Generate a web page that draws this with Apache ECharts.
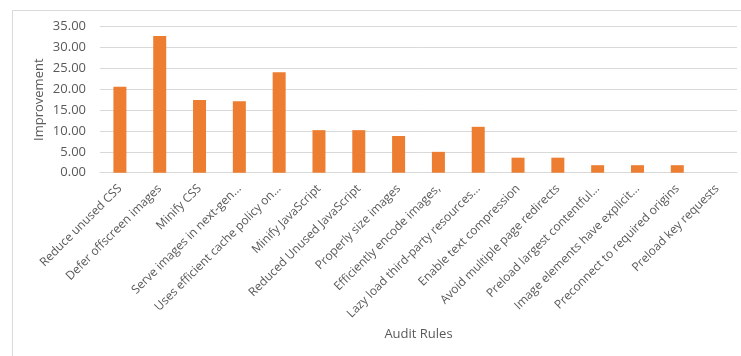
<!DOCTYPE html>
<html>
<head>
<meta charset="utf-8">
<script src="https://cdn.jsdelivr.net/npm/echarts@6/dist/echarts.min.js"></script>
<style>
  html, body { margin: 0; padding: 0; background: #fff; }
  #chart { width: 741px; height: 356px; }
</style>
</head>
<body>
<div id="chart"></div>
<script>
var rules = [
    'Reduce unused CSS',
    'Defer offscreen images',
    'Minify CSS',
    'Serve images in next-gen...',
    'Uses efficient cache policy on...',
    'Minify JavaScript',
    'Reduced Unused JavaScript',
    'Properly size images',
    'Efficiently encode images,',
    'Lazy load third-party resources...',
    'Enable text compression',
    'Avoid multiple page redirects',
    'Preload largest contentful...',
    'Image elements have explicit...',
    'Preconnect to required origins',
    'Preload key requests'
];
var improvement = [20.6, 32.8, 17.4, 17.1, 24.1, 10.2, 10.2, 8.8, 5.0, 11.0, 3.6, 3.6, 1.8, 1.8, 1.8, 0];
var yTicks = [0, 5, 10, 15, 20, 25, 30, 35];

var chartDom = document.getElementById('chart');
var myChart = echarts.init(chartDom);
var textColor = '#595959';
var fontFamily = '"Open Sans", sans-serif';

var option = {
    animation: false,
    textStyle: { fontFamily: fontFamily },
    graphic: [{
        type: 'rect',
        shape: { x: 12.5, y: 10.5, width: 800, height: 400 },
        style: { fill: 'none', stroke: '#d9d9d9', lineWidth: 1 },
        silent: true
    }],
    grid: {
        left: 100,
        right: 4,
        top: 26.7,
        bottom: 183.3,
        containLabel: false
    },
    xAxis: {
        type: 'category',
        data: rules,
        name: 'Audit Rules',
        nameLocation: 'middle',
        nameGap: 155,
        nameMoveOverlap: false,
        nameTextStyle: { color: textColor, fontSize: 13, fontFamily: fontFamily },
        axisLine: { lineStyle: { color: '#d9d9d9' } },
        axisTick: { show: false },
        axisLabel: {
            interval: 0,
            rotate: 45,
            margin: 14,
            color: textColor,
            fontSize: 12,
            fontFamily: fontFamily
        }
    },
    yAxis: {
        type: 'value',
        min: yTicks[0],
        max: yTicks[yTicks.length - 1],
        interval: 5,
        name: 'Improvement',
        nameLocation: 'middle',
        nameGap: 54,
        nameMoveOverlap: false,
        nameTextStyle: { color: textColor, fontSize: 13, fontFamily: fontFamily },
        axisLine: { show: false },
        axisTick: { show: false },
        axisLabel: {
            margin: 14,
            color: textColor,
            fontSize: 13,
            fontFamily: fontFamily,
            formatter: function (value) {
                return value.toFixed(2);
            }
        },
        splitLine: { lineStyle: { color: '#d9d9d9', width: 1 } }
    },
    series: [{
        name: 'Improvement',
        type: 'bar',
        barWidth: 13,
        itemStyle: { color: '#ED7D31' },
        data: improvement
    }]
};

option && myChart.setOption(option);
</script>
</body>
</html>
